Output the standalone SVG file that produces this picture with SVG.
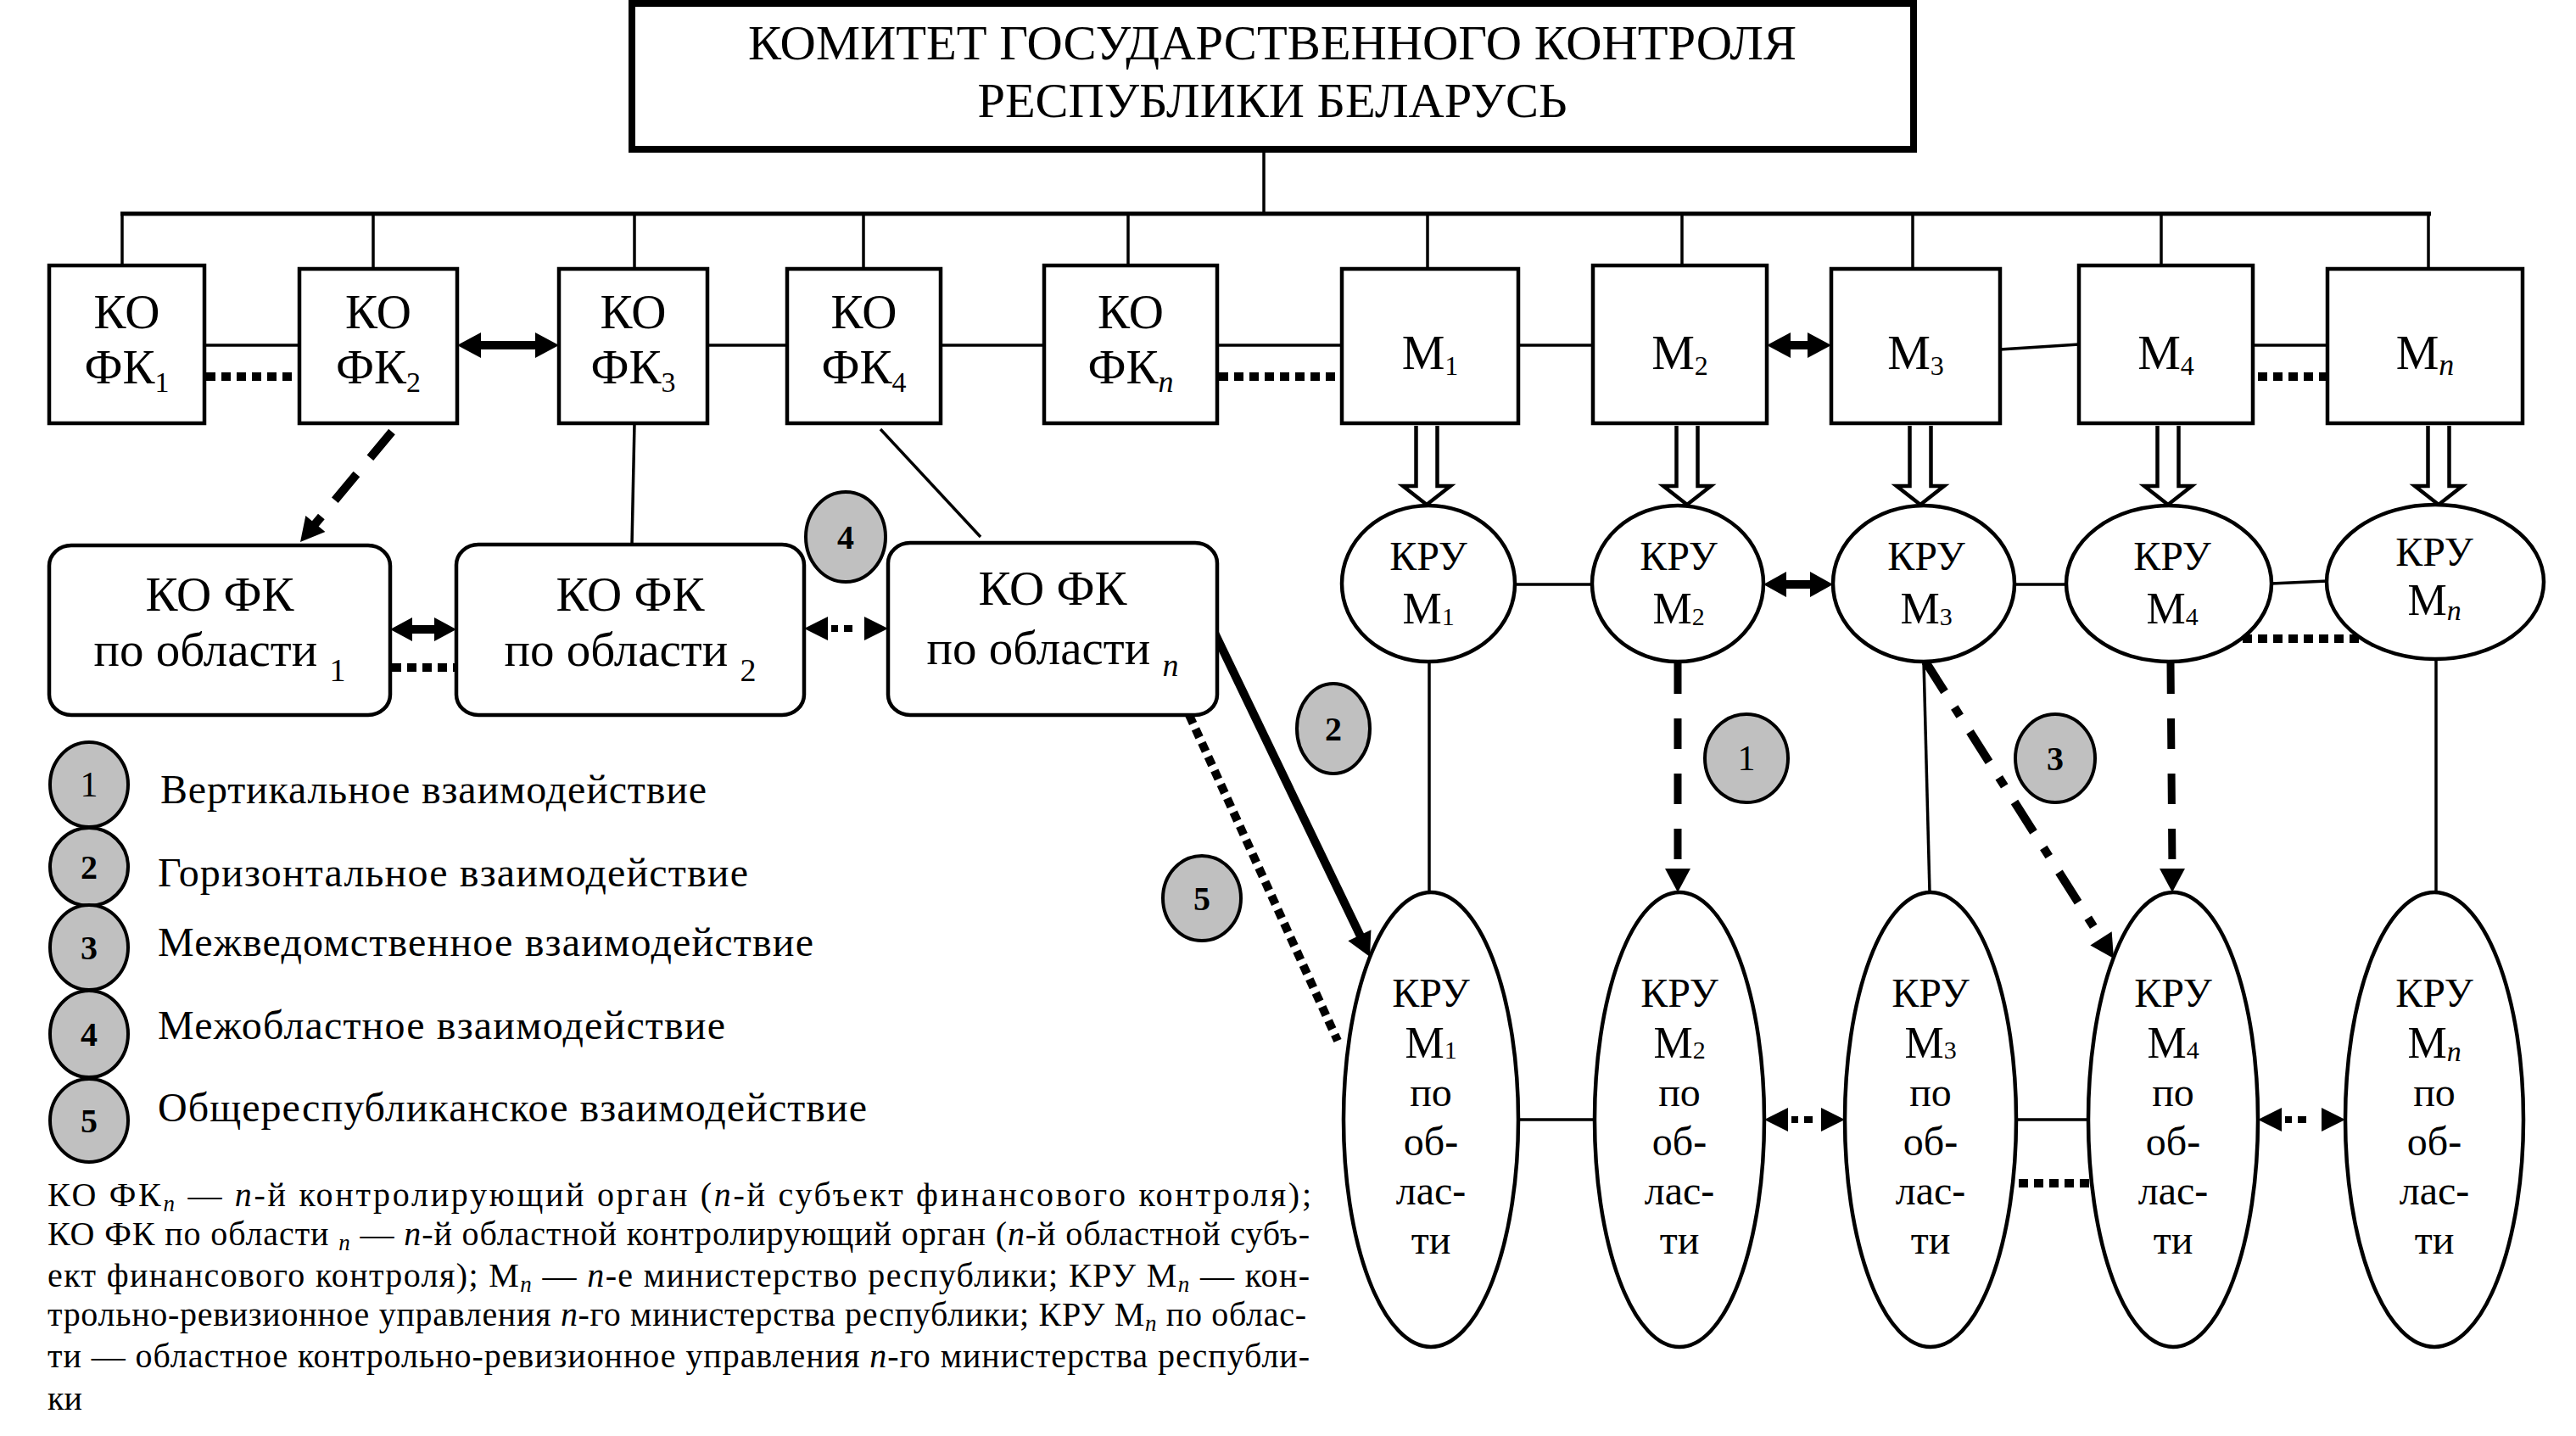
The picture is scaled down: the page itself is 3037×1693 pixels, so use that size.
<svg xmlns="http://www.w3.org/2000/svg" width="3037" height="1693" viewBox="0 0 3037 1693" font-family="'Liberation Serif', 'Times New Roman', serif">
<defs>
<style>
text{font-family:"Liberation Serif","Times New Roman",serif;fill:#000}
.box{fill:#fff;stroke:#000;stroke-width:4.5}
.ttl{fill:#fff;stroke:#000;stroke-width:8}
.ln{stroke:#000;stroke-width:3.5;fill:none}
.bus{stroke:#000;stroke-width:5;fill:none}
.dot{stroke:#000;stroke-width:10;stroke-dasharray:11 7;fill:none}
.dash{stroke:#000;stroke-width:9;stroke-dasharray:36 29;fill:none}
.dash2{stroke:#000;stroke-width:10;stroke-dasharray:40 25;fill:none}
.dd{stroke:#000;stroke-width:10;stroke-dasharray:42 22 12 22;fill:none}
.thick{stroke:#000;stroke-width:10;fill:none}
.mid{stroke:#000;stroke-width:8;stroke-dasharray:0 4 8 7 10 100;fill:none}
.blk{fill:#000;stroke:none}
.badge{fill:#c0c0c0;stroke:#000;stroke-width:4}
.hollow{fill:#fff;stroke:#000;stroke-width:4.5;stroke-linejoin:miter}
.t57{font-size:57px}
.t48{font-size:48px}
.t52{font-size:52px}
.num{font-size:40px;font-weight:bold}
.lg{font-size:48px}
.fn{font-size:40px}
.i{font-style:italic}
</style>
<path id="hd" d="M0,0 L-28,-15 L-28,15 Z"/>
</defs>
<rect width="3037" height="1693" fill="#fff"/>

<g id="connectors">
<line class="ln" x1="1490" y1="176" x2="1490" y2="252"/>
<line class="bus" x1="142" y1="252" x2="2866" y2="252"/>
<line class="ln" x1="144" y1="252" x2="144" y2="313"/>
<line class="ln" x1="440" y1="252" x2="440" y2="317"/>
<line class="ln" x1="748" y1="252" x2="748" y2="317"/>
<line class="ln" x1="1018" y1="252" x2="1018" y2="317"/>
<line class="ln" x1="1330" y1="252" x2="1330" y2="313"/>
<line class="ln" x1="1683" y1="252" x2="1683" y2="317"/>
<line class="ln" x1="1983" y1="252" x2="1983" y2="313"/>
<line class="ln" x1="2255" y1="252" x2="2255" y2="317"/>
<line class="ln" x1="2548" y1="252" x2="2548" y2="313"/>
<line class="ln" x1="2863" y1="252" x2="2863" y2="317"/>

<line class="ln" x1="241" y1="407" x2="353" y2="407"/>
<line class="dot" x1="243" y1="444" x2="353" y2="444"/>
<path class="blk" d="M539,407 L567,392 L567,402 L631,402 L631,392 L659,407 L631,422 L631,412 L567,412 L567,422 Z"/>
<line class="ln" x1="834" y1="407" x2="928" y2="407"/>
<line class="ln" x1="1109" y1="407" x2="1231" y2="407"/>
<line class="ln" x1="1435" y1="407" x2="1582" y2="407"/>
<line class="dot" x1="1437" y1="444" x2="1580" y2="444"/>
<line class="ln" x1="1790" y1="407" x2="1878" y2="407"/>
<path class="blk" d="M2083,407 L2111,392 L2111,402 L2131,402 L2131,392 L2159,407 L2131,422 L2131,412 L2111,412 L2111,422 Z"/>
<line class="ln" x1="2358" y1="412" x2="2451" y2="406"/>
<line class="ln" x1="2656" y1="407" x2="2744" y2="407"/>
<line class="dot" x1="2662" y1="444" x2="2744" y2="444"/>

<path class="hollow" d="M1669.5,502 V573 H1654 L1682,595 L1710,573 H1694.5 V502"/>
<path class="hollow" d="M1976.5,502 V573 H1961 L1989,595 L2017,573 H2001.5 V502"/>
<path class="hollow" d="M2251.5,502 V573 H2236 L2264,595 L2292,573 H2276.5 V502"/>
<path class="hollow" d="M2543.5,502 V573 H2528 L2556,595 L2584,573 H2568.5 V502"/>
<path class="hollow" d="M2862.5,502 V573 H2847 L2875,595 L2903,573 H2887.5 V502"/>

<line class="dash2" x1="462" y1="509" x2="368" y2="622"/>
<use href="#hd" transform="translate(354,639) rotate(129.7)"/>
<line class="ln" x1="748" y1="499" x2="745" y2="642"/>
<line class="ln" x1="1038" y1="506" x2="1156" y2="633"/>
<path class="blk" d="M460,742 L486,728 L486,737 L512,737 L512,728 L538,742 L512,756 L512,747 L486,747 L486,756 Z"/>
<line class="dot" x1="462" y1="787" x2="538" y2="787"/>
<path class="blk" d="M948,741 L976,727 L976,755 Z M1047,741 L1019,727 L1019,755 Z"/>
<line class="mid" x1="976" y1="741" x2="1019" y2="741"/>

<line class="thick" x1="1430" y1="742" x2="1606" y2="1108"/>
<use href="#hd" transform="translate(1615,1128) rotate(64.4)"/>
<line class="dot" x1="1402" y1="843" x2="1577" y2="1227"/>

<line class="ln" x1="1786" y1="689" x2="1877" y2="689"/>
<path class="blk" d="M2079,689 L2106,674 L2106,684 L2134,684 L2134,674 L2161,689 L2134,704 L2134,694 L2106,694 L2106,704 Z"/>
<line class="ln" x1="2375" y1="689" x2="2437" y2="689"/>
<line class="ln" x1="2678" y1="688" x2="2744" y2="685"/>
<line class="dot" x1="2644" y1="753" x2="2784" y2="753"/>

<line class="ln" x1="1685" y1="780" x2="1685" y2="1052"/>
<line class="dash" x1="1978" y1="782" x2="1978" y2="1026"/>
<use href="#hd" transform="translate(1978,1052) rotate(90)"/>
<line class="ln" x1="2268" y1="780" x2="2275" y2="1052"/>
<line class="dd" x1="2270" y1="780" x2="2480" y2="1111"/>
<use href="#hd" transform="translate(2492,1130) rotate(57.6)"/>
<line class="dash" x1="2559" y1="782" x2="2561" y2="1026"/>
<use href="#hd" transform="translate(2561,1052) rotate(90)"/>
<line class="ln" x1="2872" y1="778" x2="2872" y2="1052"/>

<line class="ln" x1="1790" y1="1320" x2="1880" y2="1320"/>
<path class="blk" d="M2080,1320 L2108,1306 L2108,1334 Z M2175,1320 L2147,1306 L2147,1334 Z"/>
<line class="mid" x1="2108" y1="1320" x2="2147" y2="1320"/>
<line class="ln" x1="2377" y1="1320" x2="2462" y2="1320"/>
<line class="dot" x1="2380" y1="1395" x2="2464" y2="1395"/>
<path class="blk" d="M2662,1320 L2690,1306 L2690,1334 Z M2765,1320 L2737,1306 L2737,1334 Z"/>
<line class="mid" x1="2690" y1="1320" x2="2737" y2="1320"/>
</g>

<g id="title">
<rect class="ttl" x="745" y="4" width="1511" height="172"/>
<text class="t57" x="1500" y="70" text-anchor="middle" textLength="1236" lengthAdjust="spacingAndGlyphs">КОМИТЕТ ГОСУДАРСТВЕННОГО КОНТРОЛЯ</text>
<text class="t57" x="1500" y="138" text-anchor="middle" textLength="695" lengthAdjust="spacingAndGlyphs">РЕСПУБЛИКИ БЕЛАРУСЬ</text>
</g>

<g id="kofk1"><rect class="box" x="58" y="313" width="183" height="186"/>
<text class="t57" x="149.5" y="387" text-anchor="middle">КО</text>
<text class="t57" x="149.5" y="452" text-anchor="middle">ФК<tspan font-size="34" dy="10">1</tspan></text></g>
<g id="kofk2"><rect class="box" x="353" y="317" width="186" height="182"/>
<text class="t57" x="446" y="387" text-anchor="middle">КО</text>
<text class="t57" x="446" y="452" text-anchor="middle">ФК<tspan font-size="34" dy="10">2</tspan></text></g>
<g id="kofk3"><rect class="box" x="659" y="317" width="175" height="182"/>
<text class="t57" x="746.5" y="387" text-anchor="middle">КО</text>
<text class="t57" x="746.5" y="452" text-anchor="middle">ФК<tspan font-size="34" dy="10">3</tspan></text></g>
<g id="kofk4"><rect class="box" x="928" y="317" width="181" height="182"/>
<text class="t57" x="1018.5" y="387" text-anchor="middle">КО</text>
<text class="t57" x="1018.5" y="452" text-anchor="middle">ФК<tspan font-size="34" dy="10">4</tspan></text></g>
<g id="kofkn"><rect class="box" x="1231" y="313" width="204" height="186"/>
<text class="t57" x="1333" y="387" text-anchor="middle">КО</text>
<text class="t57" x="1333" y="452" text-anchor="middle">ФК<tspan class="i" font-size="36" dy="10">n</tspan></text></g>

<g id="m1"><rect class="box" x="1582" y="317" width="208" height="182"/>
<text class="t57" x="1686" y="435" text-anchor="middle">М<tspan font-size="32" dy="7">1</tspan></text></g>
<g id="m2"><rect class="box" x="1878" y="313" width="205" height="186"/>
<text class="t57" x="1980.5" y="435" text-anchor="middle">М<tspan font-size="32" dy="7">2</tspan></text></g>
<g id="m3"><rect class="box" x="2159" y="317" width="199" height="182"/>
<text class="t57" x="2258.5" y="435" text-anchor="middle">М<tspan font-size="32" dy="7">3</tspan></text></g>
<g id="m4"><rect class="box" x="2451" y="313" width="205" height="186"/>
<text class="t57" x="2553.5" y="435" text-anchor="middle">М<tspan font-size="32" dy="7">4</tspan></text></g>
<g id="mn"><rect class="box" x="2744" y="317" width="230" height="182"/>
<text class="t57" x="2859" y="435" text-anchor="middle">М<tspan class="i" font-size="36" dy="7">n</tspan></text></g>

<g id="obl1"><rect class="box" x="58" y="643" width="402" height="200" rx="26" ry="24"/>
<text class="t57" x="259" y="720" text-anchor="middle">КО ФК</text>
<text class="t57" x="259" y="785" text-anchor="middle">по области <tspan font-size="38" dy="18">1</tspan></text></g>
<g id="obl2"><rect class="box" x="538" y="642" width="410" height="201" rx="26" ry="24"/>
<text class="t57" x="743" y="720" text-anchor="middle">КО ФК</text>
<text class="t57" x="743" y="785" text-anchor="middle">по области <tspan font-size="38" dy="18">2</tspan></text></g>
<g id="obln"><rect class="box" x="1047" y="640" width="388" height="203" rx="26" ry="24"/>
<text class="t57" x="1241" y="713" text-anchor="middle">КО ФК</text>
<text class="t57" x="1241" y="783" text-anchor="middle">по области <tspan class="i" font-size="38" dy="14">n</tspan></text></g>

<g id="kru1"><ellipse class="box" cx="1684" cy="688" rx="102" ry="92"/>
<text class="t48" x="1684" y="672" text-anchor="middle">КРУ</text>
<text class="t52" x="1684" y="735" text-anchor="middle">М<tspan font-size="30" dy="2">1</tspan></text></g>
<g id="kru2"><ellipse class="box" cx="1978" cy="688" rx="101" ry="92"/>
<text class="t48" x="1979" y="672" text-anchor="middle">КРУ</text>
<text class="t52" x="1979" y="735" text-anchor="middle">М<tspan font-size="30" dy="2">2</tspan></text></g>
<g id="kru3"><ellipse class="box" cx="2268" cy="688" rx="107" ry="92"/>
<text class="t48" x="2271" y="672" text-anchor="middle">КРУ</text>
<text class="t52" x="2271" y="735" text-anchor="middle">М<tspan font-size="30" dy="2">3</tspan></text></g>
<g id="kru4"><ellipse class="box" cx="2557" cy="688" rx="121" ry="92"/>
<text class="t48" x="2561" y="672" text-anchor="middle">КРУ</text>
<text class="t52" x="2561" y="735" text-anchor="middle">М<tspan font-size="30" dy="2">4</tspan></text></g>
<g id="krun"><ellipse class="box" cx="2871" cy="686" rx="128" ry="91"/>
<text class="t48" x="2870" y="667" text-anchor="middle">КРУ</text>
<text class="t52" x="2870" y="725" text-anchor="middle">М<tspan class="i" font-size="34" dy="6">n</tspan></text></g>

<g id="krupo1"><ellipse class="box" cx="1687" cy="1320" rx="103" ry="268"/>
<text class="t48" x="1687" text-anchor="middle"><tspan x="1687" y="1187">КРУ</tspan><tspan x="1687" y="1247" font-size="52px">М<tspan font-size="30" dy="1">1</tspan></tspan><tspan x="1687" y="1304">по</tspan><tspan x="1687" y="1362">об-</tspan><tspan x="1687" y="1420">лас-</tspan><tspan x="1687" y="1478">ти</tspan></text></g>
<g id="krupo2"><ellipse class="box" cx="1980" cy="1320" rx="100" ry="268"/>
<text class="t48" x="1980" text-anchor="middle"><tspan x="1980" y="1187">КРУ</tspan><tspan x="1980" y="1247" font-size="52px">М<tspan font-size="30" dy="1">2</tspan></tspan><tspan x="1980" y="1304">по</tspan><tspan x="1980" y="1362">об-</tspan><tspan x="1980" y="1420">лас-</tspan><tspan x="1980" y="1478">ти</tspan></text></g>
<g id="krupo3"><ellipse class="box" cx="2276" cy="1320" rx="101" ry="268"/>
<text class="t48" x="2276" text-anchor="middle"><tspan x="2276" y="1187">КРУ</tspan><tspan x="2276" y="1247" font-size="52px">М<tspan font-size="30" dy="1">3</tspan></tspan><tspan x="2276" y="1304">по</tspan><tspan x="2276" y="1362">об-</tspan><tspan x="2276" y="1420">лас-</tspan><tspan x="2276" y="1478">ти</tspan></text></g>
<g id="krupo4"><ellipse class="box" cx="2562" cy="1320" rx="100" ry="268"/>
<text class="t48" x="2562" text-anchor="middle"><tspan x="2562" y="1187">КРУ</tspan><tspan x="2562" y="1247" font-size="52px">М<tspan font-size="30" dy="1">4</tspan></tspan><tspan x="2562" y="1304">по</tspan><tspan x="2562" y="1362">об-</tspan><tspan x="2562" y="1420">лас-</tspan><tspan x="2562" y="1478">ти</tspan></text></g>
<g id="krupon"><ellipse class="box" cx="2870" cy="1320" rx="105" ry="268"/>
<text class="t48" x="2870" text-anchor="middle"><tspan x="2870" y="1187">КРУ</tspan><tspan x="2870" y="1247" font-size="52px">М<tspan class="i" font-size="34" dy="4">n</tspan></tspan><tspan x="2870" y="1304">по</tspan><tspan x="2870" y="1362">об-</tspan><tspan x="2870" y="1420">лас-</tspan><tspan x="2870" y="1478">ти</tspan></text></g>

<g id="badges">
<ellipse class="badge" cx="2059" cy="894" rx="49" ry="52"/><text x="2059" y="908" text-anchor="middle" font-size="42px">1</text>
<ellipse class="badge" cx="1572" cy="859" rx="43" ry="53"/><text class="num" x="1572" y="873" text-anchor="middle">2</text>
<ellipse class="badge" cx="2423" cy="894" rx="47" ry="52"/><text class="num" x="2423" y="908" text-anchor="middle">3</text>
<ellipse class="badge" cx="997" cy="633" rx="47" ry="53"/><text class="num" x="997" y="647" text-anchor="middle">4</text>
<ellipse class="badge" cx="1417" cy="1059" rx="46" ry="50"/><text class="num" x="1417" y="1073" text-anchor="middle">5</text>
</g>

<g id="legend">
<ellipse class="badge" cx="105" cy="925" rx="46" ry="50"/><text x="105" y="939" text-anchor="middle" font-size="42px">1</text>
<ellipse class="badge" cx="105" cy="1022" rx="46" ry="46"/><text class="num" x="105" y="1036" text-anchor="middle">2</text>
<ellipse class="badge" cx="105" cy="1117" rx="46" ry="50"/><text class="num" x="105" y="1131" text-anchor="middle">3</text>
<ellipse class="badge" cx="105" cy="1219" rx="46" ry="51"/><text class="num" x="105" y="1233" text-anchor="middle">4</text>
<ellipse class="badge" cx="105" cy="1321" rx="46" ry="49"/><text class="num" x="105" y="1335" text-anchor="middle">5</text>
<text class="lg" x="189" y="947" textLength="644" lengthAdjust="spacing">Вертикальное взаимодействие</text>
<text class="lg" x="186" y="1045" textLength="696" lengthAdjust="spacing">Горизонтальное взаимодействие</text>
<text class="lg" x="186" y="1127" textLength="773" lengthAdjust="spacing">Межведомственное взаимодействие</text>
<text class="lg" x="186" y="1225" textLength="669" lengthAdjust="spacing">Межобластное взаимодействие</text>
<text class="lg" x="186" y="1322" textLength="836" lengthAdjust="spacing">Общереспубликанское взаимодействие</text>
</g>

<g id="footnote">
<text class="fn" x="56" y="1422" textLength="1490" lengthAdjust="spacing">КО ФК<tspan class="i" font-size="27" dy="6">n</tspan><tspan dy="-6"> — </tspan><tspan class="i">n</tspan>-й контролирующий орган (<tspan class="i">n</tspan>-й субъект финансового контроля);</text>
<text class="fn" x="56" y="1468" textLength="1488" lengthAdjust="spacing">КО ФК по области <tspan class="i" font-size="27" dy="6">n</tspan><tspan dy="-6"> — </tspan><tspan class="i">n</tspan>-й областной контролирующий орган (<tspan class="i">n</tspan>-й областной субъ-</text>
<text class="fn" x="56" y="1517" textLength="1488" lengthAdjust="spacing">ект финансового контроля); М<tspan class="i" font-size="27" dy="6">n</tspan><tspan dy="-6"> — </tspan><tspan class="i">n</tspan>-е министерство республики; КРУ М<tspan class="i" font-size="27" dy="6">n</tspan><tspan dy="-6"> — кон-</tspan></text>
<text class="fn" x="56" y="1563" textLength="1484" lengthAdjust="spacing">трольно-ревизионное управления <tspan class="i">n</tspan>-го министерства республики; КРУ М<tspan class="i" font-size="27" dy="6">n</tspan><tspan dy="-6"> по облас-</tspan></text>
<text class="fn" x="56" y="1612" textLength="1488" lengthAdjust="spacing">ти — областное контрольно-ревизионное управления <tspan class="i">n</tspan>-го министерства республи-</text>
<text class="fn" x="56" y="1662">ки</text>
</g>
</svg>
